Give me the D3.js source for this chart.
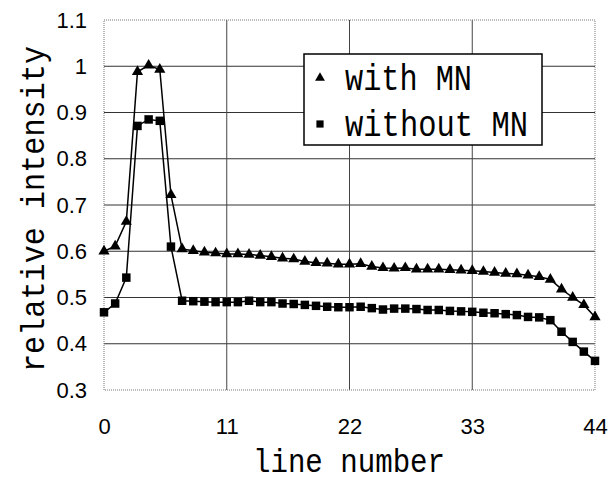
<!DOCTYPE html>
<html>
<head>
<meta charset="utf-8">
<script src="https://cdn.jsdelivr.net/npm/d3@7"></script>
<style>
  body { margin: 0; background: #fff; }
  svg { display: block; }
</style>
</head>
<body>
<div id="chart"></div>
<script>
// line index along the x axis
const lineNumbers = [0, 1, 2, 3, 4, 5, 6, 7, 8, 9, 10, 11, 12, 13, 14, 15, 16, 17, 18, 19, 20, 21,
  22, 23, 24, 25, 26, 27, 28, 29, 30, 31, 32, 33, 34, 35, 36, 37, 38, 39, 40, 41, 42, 43, 44];

const withMN = [0.600, 0.611, 0.664, 0.988, 1.002, 0.993, 0.722, 0.605, 0.601, 0.598, 0.596,
  0.594, 0.594, 0.593, 0.591, 0.588, 0.585, 0.583, 0.578, 0.575, 0.574, 0.572, 0.572, 0.573,
  0.567, 0.564, 0.563, 0.564, 0.561, 0.561, 0.561, 0.560, 0.559, 0.558, 0.556, 0.554, 0.552,
  0.551, 0.548, 0.545, 0.539, 0.518, 0.500, 0.484, 0.458];

const withoutMN = [0.468, 0.487, 0.543, 0.871, 0.885, 0.882, 0.610, 0.493, 0.492, 0.491, 0.490,
  0.490, 0.490, 0.493, 0.490, 0.490, 0.487, 0.486, 0.484, 0.482, 0.480, 0.479, 0.479, 0.480,
  0.477, 0.474, 0.476, 0.476, 0.475, 0.473, 0.473, 0.471, 0.470, 0.469, 0.467, 0.466, 0.464,
  0.462, 0.458, 0.457, 0.451, 0.426, 0.404, 0.383, 0.363];

const xTicks = [0, 11, 22, 33, 44];
const yTicks = [0.3, 0.4, 0.5, 0.6, 0.7, 0.8, 0.9, 1.0, 1.1];
const seriesNames = ["with MN", "without MN"];

const margin = { top: 20, right: 17, bottom: 91, left: 104 };
const W = 612, H = 481;
const width = W - margin.left - margin.right;
const height = H - margin.top - margin.bottom;

const svg = d3.select("#chart")
  .append("svg")
  .attr("width", W)
  .attr("height", H);

const g = svg.append("g")
  .attr("transform", "translate(" + margin.left + "," + margin.top + ")");

const x = d3.scaleLinear().domain([0, 44]).range([0, width]);
const y = d3.scaleLinear().domain([0.3, 1.1]).range([height, 0]);

// grid
g.append("g")
  .selectAll("line.h")
  .data(yTicks.filter((d) => d > 0.3 && d < 1.1))
  .join("line")
  .attr("x1", 0).attr("x2", width)
  .attr("y1", (d) => y(d)).attr("y2", (d) => y(d))
  .attr("stroke", "#333").attr("stroke-width", 1);

g.append("g")
  .selectAll("line.v")
  .data(xTicks.filter((d) => d > 0 && d < 44))
  .join("line")
  .attr("y1", 0).attr("y2", height)
  .attr("x1", (d) => x(d)).attr("x2", (d) => x(d))
  .attr("stroke", "#444").attr("stroke-width", 1);

// dotted plot frame
g.append("rect")
  .attr("width", width).attr("height", height)
  .attr("fill", "none")
  .attr("stroke", "#777")
  .attr("stroke-width", 1)
  .attr("stroke-dasharray", "1,1");

// axes
const yAxis = g.append("g")
  .call(d3.axisLeft(y).tickValues(yTicks).tickSize(0).tickPadding(17)
    .tickFormat((d) => d === 1 ? "1" : d3.format(".1f")(d)));
const xAxis = g.append("g")
  .attr("transform", `translate(0, ${height})`)
  .call(d3.axisBottom(x).tickValues(xTicks).tickSize(0).tickPadding(28));

[yAxis, xAxis].forEach((a) => {
  a.select(".domain").remove();
  a.selectAll("text")
    .attr("fill", "#000")
    .style("font-family", "'Liberation Sans Narrow', 'Liberation Sans', sans-serif")
    .style("font-size", "22px");
});

// series
const line = (vals) => d3.line()
  .x((d, i) => x(lineNumbers[i]))
  .y((d) => y(d))(vals);

[withMN, withoutMN].forEach((vals) => {
  g.append("path")
    .attr("d", line(vals))
    .attr("fill", "none")
    .attr("stroke", "#000")
    .attr("stroke-width", 1.5);
});

const tri = d3.symbol().type(d3.symbolTriangle).size(54);
const sq = d3.symbol().type(d3.symbolSquare).size(72);

g.append("g")
  .selectAll("path")
  .data(withMN)
  .join("path")
  .attr("d", tri)
  .attr("transform", (d, i) => `translate(${x(lineNumbers[i])},${y(d)})`)
  .attr("fill", "#000");

g.append("g")
  .selectAll("path")
  .data(withoutMN)
  .join("path")
  .attr("d", sq)
  .attr("transform", (d, i) => `translate(${x(lineNumbers[i])},${y(d)})`)
  .attr("fill", "#000");

// legend
const legend = svg.append("g").attr("transform", "translate(304,54)");
legend.append("rect")
  .attr("width", 238).attr("height", 91)
  .attr("fill", "#fff")
  .attr("stroke", "#000")
  .attr("stroke-width", 1.5);

const legendMarks = [d3.symbol().type(d3.symbolTriangle).size(42), d3.symbol().type(d3.symbolSquare).size(52)];
const legendLen = [127, 183];
seriesNames.forEach((name, i) => {
  legend.append("path")
    .attr("d", legendMarks[i])
    .attr("transform", `translate(16,${24 + i * 46})`)
    .attr("fill", "#000");
  legend.append("text")
    .attr("x", 41)
    .attr("y", 36 + i * 46)
    .attr("textLength", legendLen[i])
    .attr("lengthAdjust", "spacingAndGlyphs")
    .style("font-family", "'Liberation Mono', 'DejaVu Sans Mono', monospace")
    .style("font-size", "36px")
    .text(name);
});

// axis titles
svg.append("text")
  .attr("x", 349)
  .attr("y", 472)
  .attr("text-anchor", "middle")
  .attr("textLength", 192)
  .attr("lengthAdjust", "spacingAndGlyphs")
  .style("font-family", "'Liberation Mono', 'DejaVu Sans Mono', monospace")
  .style("font-size", "33px")
  .text("line number");

svg.append("text")
  .attr("transform", "translate(44,209) rotate(-90)")
  .attr("text-anchor", "middle")
  .attr("textLength", 326)
  .attr("lengthAdjust", "spacingAndGlyphs")
  .style("font-family", "'Liberation Mono', 'DejaVu Sans Mono', monospace")
  .style("font-size", "33px")
  .text("relative intensity");
</script>
</body>
</html>
